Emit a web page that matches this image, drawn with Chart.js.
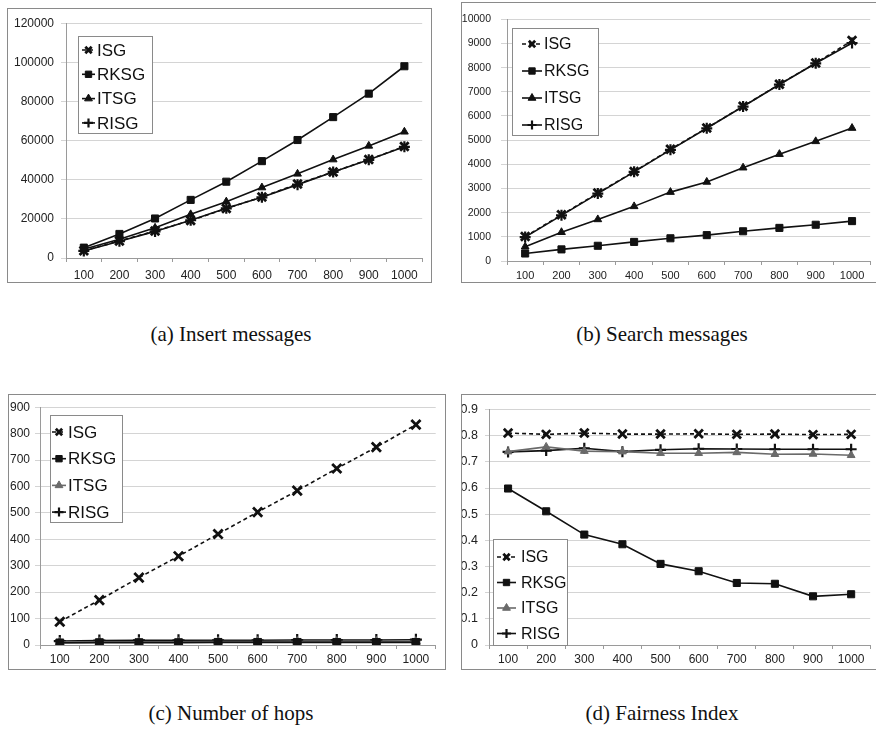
<!DOCTYPE html>
<html>
<head>
<meta charset="utf-8">
<script src="https://cdn.jsdelivr.net/npm/chart.js@4.4.1/dist/chart.umd.min.js"></script>
<style>
  html, body { margin: 0; padding: 0; background: #fff; }
  #wrap { position: relative; width: 876px; height: 735px; overflow: hidden; background: #fff; }
  .panel { position: absolute; border: 1px solid #8a8a8a; box-sizing: border-box; background: #fff; }
  .panel canvas { position: absolute; left: 0; top: 0; }
  .cap { position: absolute; width: 400px; text-align: center; font-family: "Liberation Serif", "DejaVu Serif", serif;
         font-size: 21px; color: #111; white-space: nowrap; }
</style>
</head>
<body>
<div id="wrap">
  <div class="panel" id="pa"><canvas id="ca"></canvas></div>
  <div class="panel" id="pb"><canvas id="cb"></canvas></div>
  <div class="panel" id="pc"><canvas id="cc"></canvas></div>
  <div class="panel" id="pd"><canvas id="cd"></canvas></div>
  <div class="cap" style="left:31px;top:322px">(a) Insert messages</div>
  <div class="cap" style="left:462px;top:322px">(b) Search messages</div>
  <div class="cap" style="left:31px;top:701px">(c) Number of hops</div>
  <div class="cap" style="left:462px;top:701px">(d) Fairness Index</div>
</div>
<script>
// x categories (number of nodes)
const nodes = ['100', '200', '300', '400', '500', '600', '700', '800', '900', '1000'];
const seriesNames = ['ISG', 'RKSG', 'ITSG', 'RISG'];

// (a) insert messages
const insertISG  = [3700, 8700, 13800, 19200, 25300, 31200, 37800, 44000, 50300, 57000];
const insertRKSG = [5300, 12300, 20200, 29700, 39000, 49500, 60300, 72000, 84000, 98000];
const insertITSG = [4500, 9600, 15400, 22300, 28800, 36000, 43000, 50300, 57300, 64500];
const insertRISG = [3600, 8600, 13600, 19300, 25400, 31000, 37500, 44000, 50200, 56800];

// (b) search messages
const searchISG  = [1010, 1910, 2810, 3700, 4620, 5500, 6400, 7310, 8190, 9120];
const searchRKSG = [310, 480, 630, 790, 940, 1070, 1230, 1370, 1500, 1650];
const searchITSG = [590, 1190, 1720, 2260, 2850, 3270, 3860, 4420, 4950, 5500];
const searchRISG = [990, 1890, 2790, 3690, 4600, 5490, 6390, 7300, 8180, 9020];

// (c) number of hops
const hopsISG  = [88, 170, 255, 336, 420, 503, 584, 668, 749, 834];
const hopsRKSG = [8, 9, 9, 9, 10, 10, 10, 10, 10, 10];
const hopsITSG = [11, 12, 12, 12, 13, 13, 13, 13, 13, 13];
const hopsRISG = [15, 17, 18, 18, 18, 18, 19, 19, 19, 20];

// (d) fairness index
const fairISG  = [0.810, 0.805, 0.810, 0.806, 0.806, 0.807, 0.805, 0.806, 0.804, 0.805];
const fairRKSG = [0.598, 0.511, 0.422, 0.385, 0.310, 0.282, 0.237, 0.234, 0.186, 0.194];
const fairITSG = [0.739, 0.757, 0.741, 0.739, 0.733, 0.733, 0.736, 0.729, 0.730, 0.725];
const fairRISG = [0.738, 0.743, 0.752, 0.739, 0.746, 0.750, 0.749, 0.748, 0.748, 0.748];

const FONT = '"Liberation Sans", Arial, Helvetica, sans-serif';

// draws the boxed legend inside the plot, like the spreadsheet original
const boxLegend = {
    id: 'boxLegend',
    afterDatasetsDraw(chart, args, opts) {
        const ctx = chart.ctx;
        const area = chart.chartArea;
        const x = Math.round(area.left + opts.dx);
        const y = Math.round(area.top + opts.dy);
        ctx.save();
        ctx.fillStyle = '#fff';
        ctx.fillRect(x, y, opts.w, opts.h);
        ctx.strokeStyle = '#8a8a8a';
        ctx.lineWidth = 1;
        ctx.strokeRect(x + 0.5, y + 0.5, opts.w, opts.h);
        chart.data.datasets.forEach((ds, i) => {
            const ry = y + opts.row0 + i * opts.step;
            ctx.strokeStyle = ds.borderColor;
            ctx.lineWidth = ds.borderWidth;
            ctx.setLineDash(ds.borderDash || []);
            ctx.beginPath();
            ctx.moveTo(x + opts.s0, ry);
            ctx.lineTo(x + opts.s1, ry);
            ctx.stroke();
            ctx.setLineDash([]);
            ctx.fillStyle = ds.pointBackgroundColor;
            ctx.strokeStyle = ds.pointBorderColor;
            ctx.lineWidth = ds.pointBorderWidth;
            Chart.helpers.drawPoint(ctx, {
                pointStyle: ds.pointStyle, radius: opts.r, rotation: 0, borderWidth: ds.pointBorderWidth
            }, x + (opts.s0 + opts.s1) / 2, ry);
            ctx.fillStyle = '#111';
            ctx.font = opts.font + 'px ' + FONT;
            ctx.textBaseline = 'middle';
            ctx.textAlign = 'left';
            ctx.fillText(ds.label, x + opts.tx, ry + 1);
        });
        ctx.restore();
    }
};

function makeSets(values, r, grayITSG) {
    const gray = '#6a6a6a';
    const styles = [
        {c: '#111', dash: [4, 3], pt: 'crossRot', pw: 2.8, r: r + 1.5},
        {c: '#111', dash: [], pt: 'rect', pw: 1, r: r + 0.5},
        {c: grayITSG ? gray : '#111', dash: [], pt: 'triangle', pw: 1, r: r},
        {c: '#111', dash: [], pt: 'cross', pw: 2.2, r: r + 1}
    ];
    return values.map((v, i) => ({
        label: seriesNames[i],
        data: v,
        borderColor: styles[i].c,
        borderWidth: 1.6,
        borderDash: styles[i].dash,
        pointStyle: styles[i].pt,
        pointRadius: styles[i].r,
        pointBorderWidth: styles[i].pw,
        pointBackgroundColor: styles[i].c,
        pointBorderColor: styles[i].c,
        tension: 0
    }));
}

function fmtTick(v) {
    return String(Number(v.toFixed(6)));
}

function makeChart(cfg) {
    const [bl, bt, br, bb] = cfg.box;
    const [al, at, ar, ab] = cfg.area;
    const panel = document.getElementById(cfg.panel);
    panel.style.left = bl + 'px';
    panel.style.top = bt + 'px';
    panel.style.width = (br - bl) + 'px';
    panel.style.height = (bb - bt) + 'px';
    const W = br - bl - 2, H = bb - bt - 2;
    const canvas = document.getElementById(cfg.canvas);
    canvas.width = W;
    canvas.height = H;
    const ox = bl + 1, oy = bt + 1;
    const xAxisH = 24;

    return new Chart(canvas, {
        type: 'line',
        data: {labels: nodes, datasets: makeSets(cfg.values, cfg.r, cfg.grayITSG)},
        options: {
            responsive: false,
            animation: false,
            events: [],
            layout: {
                padding: {left: 0, top: at - oy, right: W - (ar - ox), bottom: H - (ab - oy) - xAxisH}
            },
            plugins: {
                legend: {display: false},
                tooltip: {enabled: false},
                boxLegend: cfg.legend
            },
            scales: {
                x: {
                    type: 'category',
                    offset: true,
                    afterFit: s => { s.height = xAxisH; },
                    grid: {offset: true, drawOnChartArea: false, drawTicks: true, tickLength: 4, color: '#9a9a9a'},
                    border: {color: '#9a9a9a'},
                    ticks: {autoSkip: false, maxRotation: 0, color: '#222', padding: cfg.xPad,
                            font: {family: FONT, size: cfg.xFont}}
                },
                y: {
                    min: 0,
                    max: cfg.yMax,
                    afterFit: s => { s.width = al - ox; },
                    grid: {color: '#d4d4d4', lineWidth: 1, drawTicks: true, tickLength: cfg.yTick},
                    border: {color: '#9a9a9a'},
                    ticks: {stepSize: cfg.yStep, color: '#222', padding: cfg.yPad, callback: fmtTick,
                            font: {family: FONT, size: cfg.yFont}}
                }
            }
        },
        plugins: [boxLegend]
    });
}

function drawCharts() {
    makeChart({
        panel: 'pa', canvas: 'ca', box: [7, 8, 432, 283], area: [66, 18, 425, 258],
        values: [insertISG, insertRKSG, insertITSG, insertRISG], r: 4.5, grayITSG: false,
        yMax: 120000, yStep: 20000, yFont: 12, yTick: 5, yPad: 7, xFont: 12, xPad: 6,
        legend: {dx: 12, dy: 13, w: 74, h: 97, row0: 14, step: 24.3, s0: 4, s1: 17, tx: 19, r: 4.5, font: 17}
    });
    makeChart({
        panel: 'pb', canvas: 'cb', box: [461, 2, 880, 283], area: [507, 17, 874, 261],
        values: [searchISG, searchRKSG, searchITSG, searchRISG], r: 4.5, grayITSG: false,
        yMax: 10000, yStep: 1000, yFont: 10.5, yTick: 6, yPad: 10, xFont: 11, xPad: 4,
        legend: {dx: 5, dy: 9, w: 86, h: 107, row0: 16, step: 27, s0: 10, s1: 30, tx: 32, r: 4.5, font: 16}
    });
    makeChart({
        panel: 'pc', canvas: 'cc', box: [8, 394, 446, 670], area: [40, 405, 437, 645],
        values: [hopsISG, hopsRKSG, hopsITSG, hopsRISG], r: 5, grayITSG: true,
        yMax: 900, yStep: 100, yFont: 12, yTick: 5, yPad: 5, xFont: 12, xPad: 3,
        legend: {dx: 10, dy: 8, w: 72, h: 107, row0: 17, step: 26.7, s0: 2, s1: 16, tx: 18, r: 4.5, font: 17}
    });
    makeChart({
        panel: 'pd', canvas: 'cd', box: [461, 394, 880, 670], area: [489, 405, 872, 645],
        values: [fairISG, fairRKSG, fairITSG, fairRISG], r: 4.5, grayITSG: true,
        yMax: 0.9, yStep: 0.1, yFont: 12.5, yTick: 4, yPad: 7, xFont: 12, xPad: 3,
        legend: {dx: 4, dy: 129, w: 74, h: 106, row0: 18, step: 25.5, s0: 4, s1: 23, tx: 28, r: 4.5, font: 16}
    });
}

window.addEventListener('load', evt => drawCharts());
</script>
</body>
</html>
